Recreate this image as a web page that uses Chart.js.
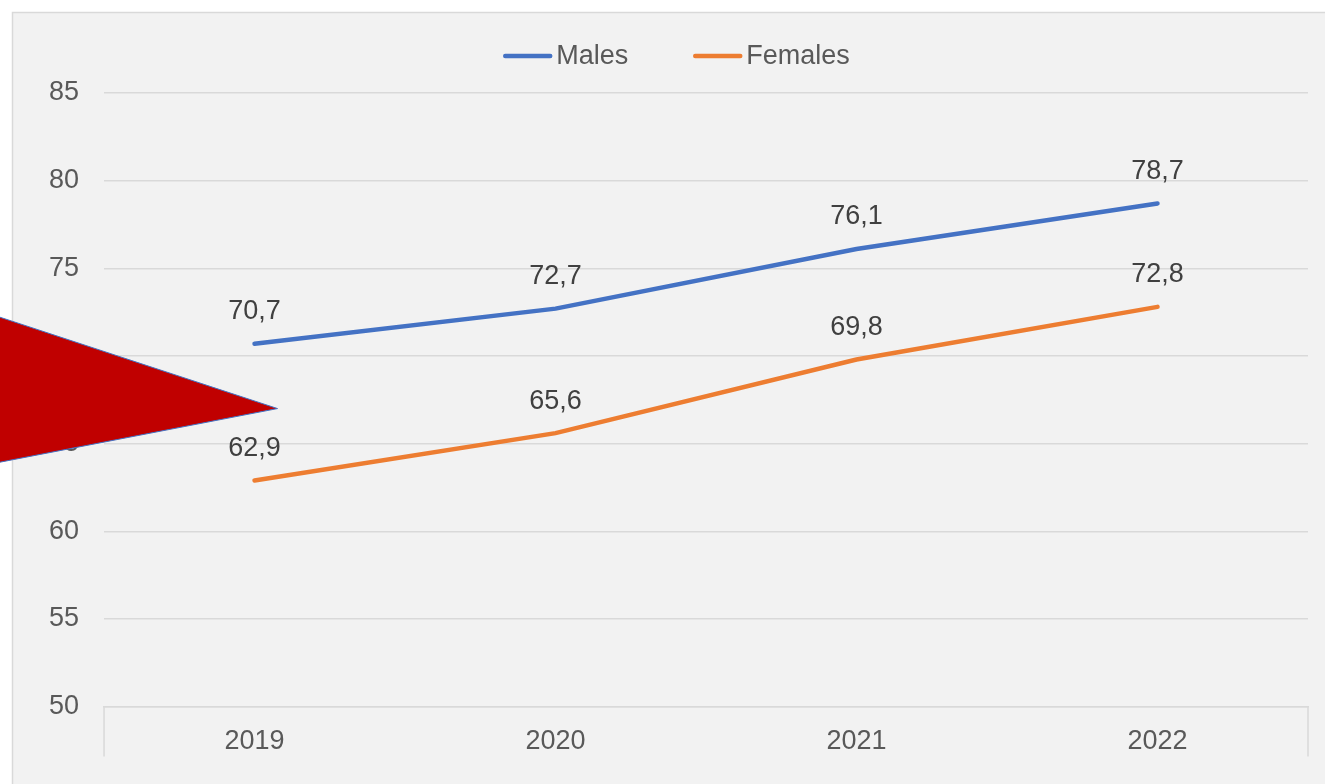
<!DOCTYPE html>
<html><head><meta charset="utf-8">
<script src="https://cdn.jsdelivr.net/npm/chart.js@4.4.0/dist/chart.umd.min.js"></script>
<style>html,body{margin:0;padding:0;background:#fff;overflow:hidden}#wrap{position:absolute;left:0;top:0;width:1325px;height:784px}</style>
</head><body><div id="wrap"><canvas id="c" width="1325" height="784"></canvas></div>
<script>
const categories = ['2019', '2020', '2021', '2022'];
const malesValues = [70.7, 72.7, 76.1, 78.7];
const femalesValues = [62.9, 65.6, 69.8, 72.8];
const seriesNames = ['Males', 'Females'];
const yTicks = [50, 55, 60, 65, 70, 75, 80, 85];

const FONT = "'Liberation Sans', Arial, sans-serif";
const FS = 27;

const framePlugin = {
  id: 'frame',
  beforeDraw(chart) {
    const ctx = chart.ctx;
    ctx.save();
    ctx.fillStyle = '#ffffff';
    ctx.fillRect(0, 0, chart.width, chart.height);
    ctx.fillStyle = '#f2f2f2';
    ctx.fillRect(12, 12, chart.width, chart.height);
    ctx.strokeStyle = '#d9d9d9';
    ctx.lineWidth = 1.5;
    ctx.beginPath();
    ctx.moveTo(12.5, chart.height + 5);
    ctx.lineTo(12.5, 12.5);
    ctx.lineTo(chart.width + 5, 12.5);
    ctx.stroke();
    ctx.restore();
  },
  afterDatasetsDraw(chart) {
    const ctx = chart.ctx;
    const a = chart.chartArea;
    ctx.save();
    // category axis outer tick marks
    ctx.strokeStyle = '#d9d9d9';
    ctx.lineWidth = 1.5;
    ctx.beginPath();
    ctx.moveTo(a.left, a.bottom); ctx.lineTo(a.left, a.bottom + 50);
    ctx.moveTo(a.right, a.bottom); ctx.lineTo(a.right, a.bottom + 50);
    ctx.stroke();
    // data labels
    ctx.fillStyle = '#404040';
    ctx.font = FS + 'px ' + FONT;
    ctx.textAlign = 'center';
    ctx.textBaseline = 'middle';
    chart.data.datasets.forEach((ds, i) => {
      const meta = chart.getDatasetMeta(i);
      meta.data.forEach((pt, j) => {
        ctx.fillText(ds.data[j].toFixed(1).replace('.', ','), pt.x, pt.y - 32);
      });
    });
    // legend
    ctx.font = FS + 'px ' + FONT;
    ctx.textAlign = 'left';
    const seg = 49, gap = 4, itemGap = 65;
    const widths = chart.data.datasets.map(ds => ctx.measureText(ds.label).width);
    const total = widths.reduce((s, w) => s + seg + gap + w, 0) + itemGap * (widths.length - 1);
    let x = chart.width / 2 + 14 - total / 2;
    const y = 56;
    chart.data.datasets.forEach((ds, i) => {
      ctx.strokeStyle = ds.borderColor;
      ctx.lineWidth = 4.5;
      ctx.lineCap = 'round';
      ctx.beginPath();
      ctx.moveTo(x + 2, y); ctx.lineTo(x + seg - 2, y);
      ctx.stroke();
      ctx.fillStyle = '#595959';
      ctx.fillText(ds.label, x + seg + gap, y + 1);
      x += seg + gap + widths[i] + itemGap;
    });
    ctx.restore();
  },
  afterDraw(chart) {
    // red triangle callout shape overlay
    const ctx = chart.ctx;
    const xs = chart.scales.x, ys = chart.scales.y;
    const tipX = xs.getPixelForValue(0) + 23;
    const tipY = ys.getPixelForValue(67);
    ctx.save();
    ctx.beginPath();
    ctx.moveTo(-2, tipY - 92);
    ctx.lineTo(tipX, tipY);
    ctx.lineTo(-2, tipY + 54);
    ctx.closePath();
    ctx.fillStyle = '#c00000';
    ctx.fill();
    ctx.strokeStyle = '#4472c4';
    ctx.lineWidth = 1;
    ctx.stroke();
    ctx.restore();
  }
};

new Chart(document.getElementById('c'), {
  type: 'line',
  data: {
    labels: categories,
    datasets: [
      { label: seriesNames[0], data: malesValues, borderColor: '#4472c4', backgroundColor: '#4472c4', borderWidth: 4.5, pointRadius: 0, tension: 0, borderCapStyle: 'round' },
      { label: seriesNames[1], data: femalesValues, borderColor: '#ed7d31', backgroundColor: '#ed7d31', borderWidth: 4.5, pointRadius: 0, tension: 0, borderCapStyle: 'round' }
    ]
  },
  options: {
    responsive: false,
    animation: false,
    layout: { padding: { top: 93, left: 24, right: 17, bottom: 15 } },
    plugins: {
      legend: { display: false },
      tooltip: { enabled: false }
    },
    scales: {
      x: {
        offset: true,
        grid: { display: false },
        border: { display: true, color: '#d9d9d9', width: 1.5 },
        ticks: { color: '#595959', font: { family: FONT, size: FS }, padding: 11 }
      },
      y: {
        min: 50, max: 85,
        afterBuildTicks(scale) { scale.ticks = yTicks.map(v => ({ value: v })); },
        grid: { color: '#d9d9d9', lineWidth: 1.5, drawTicks: false },
        border: { display: false },
        ticks: { color: '#595959', font: { family: FONT, size: FS }, padding: 25 }
      }
    }
  },
  plugins: [framePlugin]
});
</script></body></html>
